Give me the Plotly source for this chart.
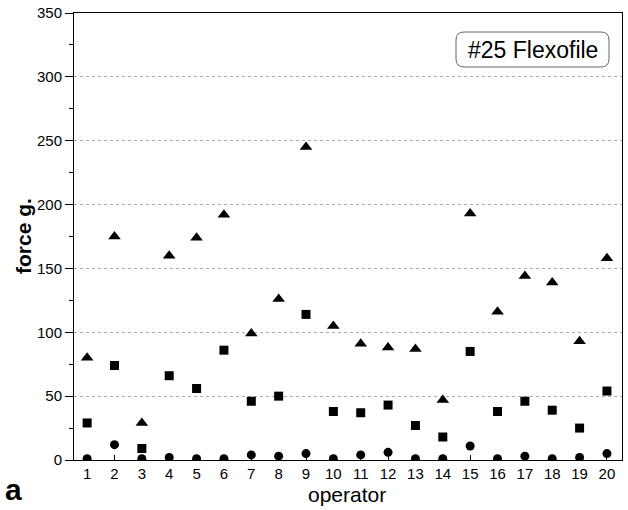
import plotly.graph_objects as go

operators = list(range(1, 21))
triangle_vals = [80, 175, 29, 160, 174, 192, 99, 126, 245, 105, 91, 88, 87, 47, 193, 116, 144, 139, 93, 158]
square_vals = [29, 74, 9, 66, 56, 86, 46, 50, 114, 38, 37, 43, 27, 18, 85, 38, 46, 39, 25, 54]
circle_vals = [1, 12, 1, 2, 1, 1, 4, 3, 5, 1, 4, 6, 1, 1, 11, 1, 3, 1, 2, 5]
y_ticks = [0, 50, 100, 150, 200, 250, 300, 350]

FONT = "Liberation Sans, Arial, sans-serif"

fig = go.Figure()
fig.add_trace(go.Scatter(x=operators, y=triangle_vals, mode="markers",
                         marker=dict(symbol="triangle-up", size=11, color="black")))
fig.add_trace(go.Scatter(x=operators, y=square_vals, mode="markers",
                         marker=dict(symbol="square", size=9, color="black")))
fig.add_trace(go.Scatter(x=operators, y=circle_vals, mode="markers",
                         marker=dict(symbol="circle", size=9, color="black")))

L, R, T, B = 74, 6, 13, 50
W, H = 628, 510
pw, ph = W - L - R, H - T - B


def px(x):
    return (x - L) / pw


def py(y):
    return (H - B - y) / ph


# rounded label box
x0, x1 = px(456), px(609)
y1, y0 = py(32), py(67)
rx, ry = 8 / pw, 8 / ph
path = (f"M {x0+rx},{y1} L {x1-rx},{y1} Q {x1},{y1} {x1},{y1-ry} "
        f"L {x1},{y0+ry} Q {x1},{y0} {x1-rx},{y0} L {x0+rx},{y0} "
        f"Q {x0},{y0} {x0},{y0+ry} L {x0},{y1-ry} Q {x0},{y1} {x0+rx},{y1} Z")
fig.add_shape(type="path", path=path, xref="paper", yref="paper",
              line=dict(color="#666", width=1))
fig.add_annotation(x=(x0 + x1) / 2, y=(y0 + y1) / 2, xref="paper", yref="paper",
                   xanchor="center", yanchor="middle",
                   text="#25 Flexofile", showarrow=False,
                   font=dict(family=FONT, size=23, color="black"))
fig.add_annotation(x=px(13), y=py(489), xref="paper", yref="paper",
                   xanchor="center", yanchor="middle",
                   text="<b>a</b>", showarrow=False,
                   font=dict(family=FONT, size=30, color="black"))
fig.add_annotation(x=px(23), y=py(236), xref="paper", yref="paper",
                   xanchor="center", yanchor="middle",
                   text="<b>force g.</b>", textangle=-90, showarrow=False,
                   font=dict(family=FONT, size=21, color="black"))
fig.add_annotation(x=px(347), y=py(494), xref="paper", yref="paper",
                   xanchor="center", yanchor="middle",
                   text="operator", showarrow=False,
                   font=dict(family=FONT, size=21, color="black"))

fig.update_layout(
    width=W, height=H,
    margin=dict(l=L, r=R, t=T, b=B, autoexpand=False),
    plot_bgcolor="white", paper_bgcolor="white",
    showlegend=False,
    font=dict(family=FONT, size=15, color="black"),
    xaxis=dict(range=[0.52, 20.55], tickvals=operators, ticks="inside", ticklen=5,
               tickcolor="black", showgrid=False, zeroline=False,
               showline=True, linecolor="black", linewidth=1, mirror=True),
    yaxis=dict(range=[0, 350], tickvals=y_ticks, ticks="outside", ticklen=8,
               tickcolor="black", showgrid=True, gridcolor="#aaa", griddash="dot",
               gridwidth=1, zeroline=False, showline=True, linecolor="black",
               linewidth=1, mirror=True,
               minor=dict(dtick=25, ticks="outside", ticklen=4, tickcolor="black",
                          showgrid=False)),
)

fig.write_html("out.html", config={"displayModeBar": False},
               post_script="document.body.style.margin='0';")
